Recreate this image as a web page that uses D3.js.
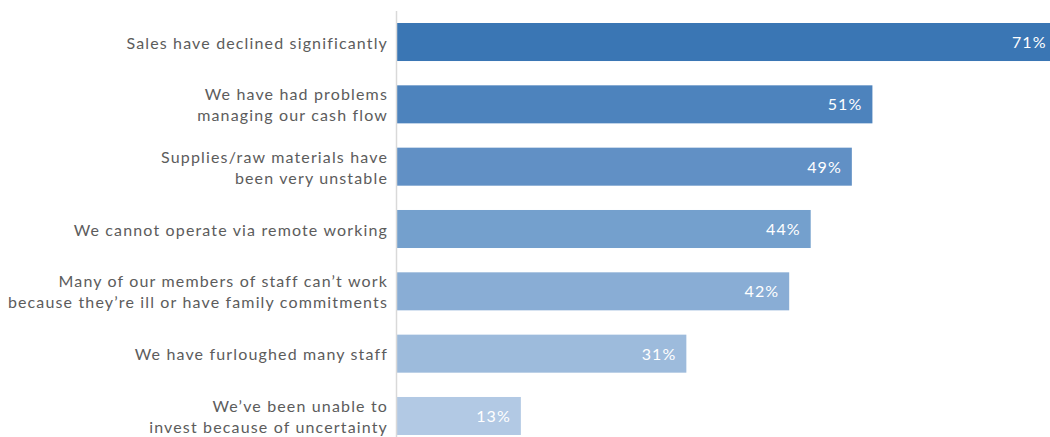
<!DOCTYPE html>
<html>
<head>
<meta charset="utf-8">
<script src="https://cdn.jsdelivr.net/npm/d3@7"></script>
<style>
  body { margin: 0; background: #fff; }
  svg { display: block; }
</style>
</head>
<body>
<div id="chart"></div>
<script>
// data (percent of firms)
var categories = [
  ["Sales have declined significantly"],
  ["We have had problems", "managing our cash flow"],
  ["Supplies/raw materials have", "been very unstable"],
  ["We cannot operate via remote working"],
  ["Many of our members of staff can\u2019t work", "because they\u2019re ill or have family commitments"],
  ["We have furloughed many staff"],
  ["We\u2019ve been unable to", "invest because of uncertainty"]
]
var values = [70.6, 50.9, 48.7, 44.3, 42.0, 31.0, 13.3]
var barColors = ["#3a76b4", "#4d83bd", "#6190c5", "#74a0cd", "#89add5", "#9dbbdc", "#b2c9e4"]

var width = 1050, height = 437
var x0 = 396.5

var svg = d3.select("#chart").append("svg")
  .attr("width", width).attr("height", height)

var xs = d3.scaleLinear().domain([0, 100]).range([x0, x0 + 935])
var ys = d3.scaleBand().domain(d3.range(values.length)).range([23, 435]).paddingInner(0.39).paddingOuter(0)

var fmt = d3.format(".0f")

// bars
svg.append("g").selectAll("rect")
  .data(values)
  .enter()
  .append("rect")
  .attr("x", xs(0))
  .attr("y", function (d, i) { return ys(i) })
  .attr("width", function (d) { return xs(d) - xs(0) })
  .attr("height", ys.bandwidth())
  .attr("fill", function (d, i) { return barColors[i] })

// value labels inside bars
svg.append("g").selectAll("text")
  .data(values)
  .enter()
  .append("text")
  .attr("x", function (d) { return xs(d) - 10 })
  .attr("y", function (d, i) { return ys(i) + ys.bandwidth() / 2 })
  .attr("dy", "0.38em")
  .attr("text-anchor", "end")
  .style("font-family", "Lato, sans-serif")
  .style("font-size", "16px")
  .style("letter-spacing", "1.1px")
  .attr("fill", "#fff")
  .text(function (d) { return fmt(d) + "%" })

// axis line
svg.append("line")
  .attr("x1", x0).attr("x2", x0)
  .attr("y1", 11).attr("y2", height)
  .attr("stroke", "#d9d9d9")
  .attr("stroke-width", 1.5)

// category labels
var lineH = 21
var labels = svg.append("g").selectAll("text")
  .data(categories)
  .enter()
  .append("text")
  .attr("text-anchor", "end")
  .style("font-family", "Lato, sans-serif")
  .style("font-size", "16px")
  .style("letter-spacing", "1.15px")
  .attr("fill", "#5c5c5c")
  .attr("y", function (d, i) { return ys(i) + ys.bandwidth() / 2 })

labels.selectAll("tspan")
  .data(function (d) { return d })
  .enter()
  .append("tspan")
  .attr("x", 388)
  .attr("dy", function (t, j, nodes) {
    var n = nodes.length
    if (j == 0) return ((-(n - 1) / 2) * lineH + 6.5) + "px"
    return lineH + "px"
  })
  .text(function (t) { return t })
</script>
</body>
</html>
